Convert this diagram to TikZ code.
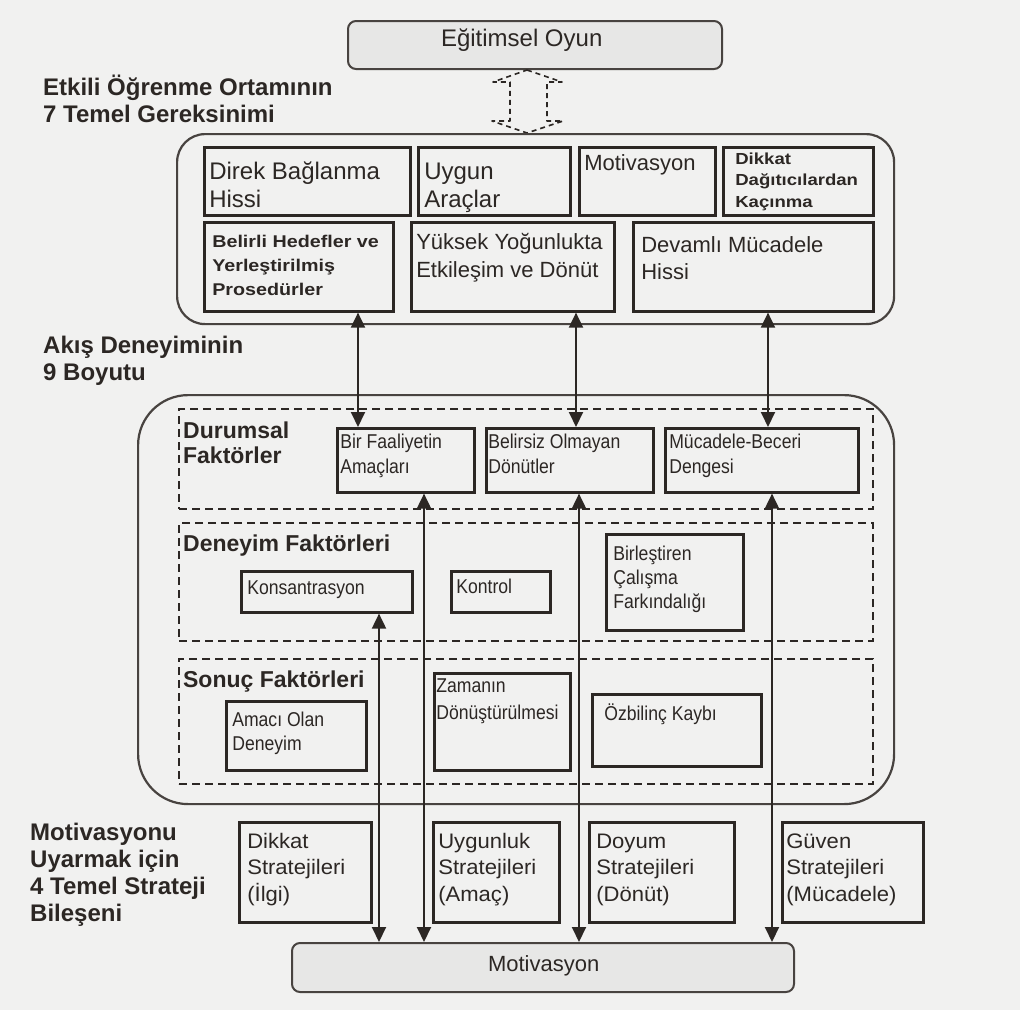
\documentclass[tikz,border=0pt]{standalone}
\usepackage{fontspec}
\setmainfont{Liberation Sans}
\newfontfamily\nar{Liberation Sans}[FakeStretch=0.88]
\newfontfamily\wid{Liberation Sans}[FakeStretch=1.16]
\newfontfamily\strf{Liberation Sans}[FakeStretch=1.05]
\usetikzlibrary{arrows.meta}
\definecolor{ink}{RGB}{44,39,36}
\definecolor{bg}{RGB}{241,241,240}
\definecolor{fillg}{RGB}{231,231,230}
\definecolor{contc}{RGB}{72,67,64}
% name, x/y, w, h, style, font, padx, first baseline, text
\newcommand\tb[9]{\node[#5,anchor=north west,inner sep=0pt,minimum width=#3pt,minimum height=#4pt] (#1) at (#2) {\parbox[t][#4pt][t]{#3pt}{#6\raggedright\leftskip=#7pt\relax\rule{0pt}{#8pt}#9\par}};}
\newcommand\fbig{\fontsize{24}{28}\selectfont}
\newcommand\flab{\fontsize{24}{27}\selectfont\bfseries}
\newcommand\fgrp{\fontsize{23}{25}\selectfont\bfseries}
\newcommand\fnar{\nar\fontsize{20}{25}\selectfont}
\newcommand\fstr{\strf\fontsize{21}{26.5}\selectfont}
\begin{document}
\begin{tikzpicture}[x=1pt,y=-1pt,
  every node/.style={text=ink},
  plain/.style={},
  box/.style={draw=ink,line width=2.6pt},
  gbox/.style={draw=contc,fill=fillg,line width=2pt,rounded corners=8pt},
  dbox/.style={draw=ink,line width=2.3pt,dash pattern=on 8pt off 5pt},
  contbox/.style={draw=contc,line width=2.2pt},
  arr/.style={draw=ink,line width=1.9pt,arrows={Triangle[width=14pt,length=15pt]-Triangle[width=14pt,length=15pt]}}]
\fill[bg] (0,0) rectangle (1020,1010);
\useasboundingbox (0,0) rectangle (1020,1010);

% top game box
\tb{game}{347,20}{374}{48}{gbox}{\fbig}{93}{25}{Eğitimsel Oyun}
% dashed double arrow
\draw[ink,line width=1.6pt,dash pattern=on 5pt off 4pt,line join=round]
  (527,70) -- (562,82) -- (547,82) -- (547,121) -- (563,121) -- (527,133)
  -- (492,121) -- (510,121) -- (510,82) -- (493,82) -- cycle;

% left labels
\tb{lab1}{43,60}{320}{70}{plain}{\flab}{0}{35}{Etkili Öğrenme Ortamının\\7 Temel Gereksinimi}
\tb{lab2}{43,320}{260}{70}{plain}{\flab}{0}{33}{Akış Deneyiminin\\9 Boyutu}
\tb{lab3}{30,800}{205}{130}{plain}{\flab}{0}{40}{Motivasyonu\\Uyarmak için\\4 Temel Strateji\\Bileşeni}

% requirements container
\node[contbox,rounded corners=28pt,anchor=north west,inner sep=0pt,minimum width=717pt,minimum height=190pt] (req) at (176,133) {};
\tb{dbh}{203,146}{206}{68}{box}{\fbig}{5}{32}{Direk Bağlanma\\Hissi}
\tb{ua}{417,146}{152}{68}{box}{\fbig}{6}{32}{Uygun\\Araçlar}
\tb{mo}{578,146}{136}{68}{box}{\fontsize{22}{26}\selectfont}{5}{23}{Motivasyon}
\tb{dd}{722,146}{150}{68}{box}{\wid\fontsize{16}{21.5}\selectfont\bfseries}{12}{17}{Dikkat\\Dağıtıcılardan\\Kaçınma}
\tb{bh}{203,221}{189}{89}{box}{\wid\fontsize{17}{24}\selectfont\bfseries}{8}{25}{Belirli Hedefler ve\\Yerleştirilmiş\\Prosedürler}
\tb{yy}{410,221}{203}{89}{box}{\fontsize{22}{28}\selectfont}{5}{27}{Yüksek Yoğunlukta\\Etkileşim ve Dönüt}
\tb{dm}{632,221}{240}{89}{box}{\fontsize{22}{27}\selectfont}{8}{30}{Devamlı Mücadele\\Hissi}

% flow container
\node[contbox,rounded corners=50pt,anchor=north west,inner sep=0pt,minimum width=756pt,minimum height=409pt] (flow) at (137,394) {};
\tb{ds}{178,408}{694}{100}{dbox}{\fgrp}{4}{29}{Durumsal\\Faktörler}
\tb{bf}{336,427}{137}{64}{box}{\fnar}{3}{20}{Bir Faaliyetin\\Amaçları}
\tb{bo}{485,427}{167}{64}{box}{\fnar}{2}{20}{Belirsiz Olmayan\\Dönütler}
\tb{mb}{664,427}{193}{64}{box}{\fnar}{4}{20}{Mücadele-Beceri\\Dengesi}

\tb{df}{178,522}{694}{118}{dbox}{\fgrp}{4}{28}{Deneyim Faktörleri}
\tb{kon}{240,570}{171}{41}{box}{\fnar}{6}{23}{Konsantrasyon}
\tb{ktr}{450,570}{99}{41}{box}{\fnar}{5}{22}{Kontrol}
\tb{bca}{605,533}{137}{96}{box}{\nar\fontsize{20}{24}\selectfont}{7}{26}{Birleştiren\\Çalışma\\Farkındalığı}

\tb{sf}{178,658}{694}{125}{dbox}{\fgrp}{4}{28}{Sonuç Faktörleri}
\tb{aod}{225,700}{140}{69}{box}{\nar\fontsize{20}{24}\selectfont}{6}{25}{Amacı Olan\\Deneyim}
\tb{zd}{433,672}{136}{97}{box}{\nar\fontsize{20}{27}\selectfont}{2}{19}{Zamanın\\Dönüştürülmesi}
\tb{ok}{591,693}{169}{72}{box}{\fnar}{12}{26}{Özbilinç Kaybı}

% strategies
\tb{s1}{238,821}{132}{100}{box}{\fstr}{8}{26}{Dikkat\\Stratejileri\\(İlgi)}
\tb{s2}{432,821}{126}{100}{box}{\fstr}{5}{26}{Uygunluk\\Stratejileri\\(Amaç)}
\tb{s3}{588,821}{145}{100}{box}{\fstr}{7}{26}{Doyum\\Stratejileri\\(Dönüt)}
\tb{s4}{781,821}{141}{100}{box}{\fstr}{4}{26}{Güven\\Stratejileri\\(Mücadele)}

% motivation box
\tb{mot}{291,942}{502}{49}{gbox}{\fontsize{22}{26}\selectfont}{196}{28}{Motivasyon}

% arrow columns
\coordinate (u1) at (358,0);
\coordinate (u2) at (576,0);
\coordinate (u3) at (768,0);
\coordinate (l1) at (379,0);
\coordinate (l2) at (424,0);
\coordinate (l3) at (579,0);
\coordinate (l4) at (772,0);

\draw[arr] (bh.south -| u1) -- (bf.north -| u1);
\draw[arr] (yy.south -| u2) -- (bo.north -| u2);
\draw[arr] (dm.south -| u3) -- (mb.north -| u3);

\draw[arr] (kon.south -| l1) -- (mot.north -| l1);
\draw[arr] (bf.south -| l2) -- (mot.north -| l2);
\draw[arr] (bo.south -| l3) -- (mot.north -| l3);
\draw[arr] (mb.south -| l4) -- (mot.north -| l4);
\end{tikzpicture}
\end{document}
